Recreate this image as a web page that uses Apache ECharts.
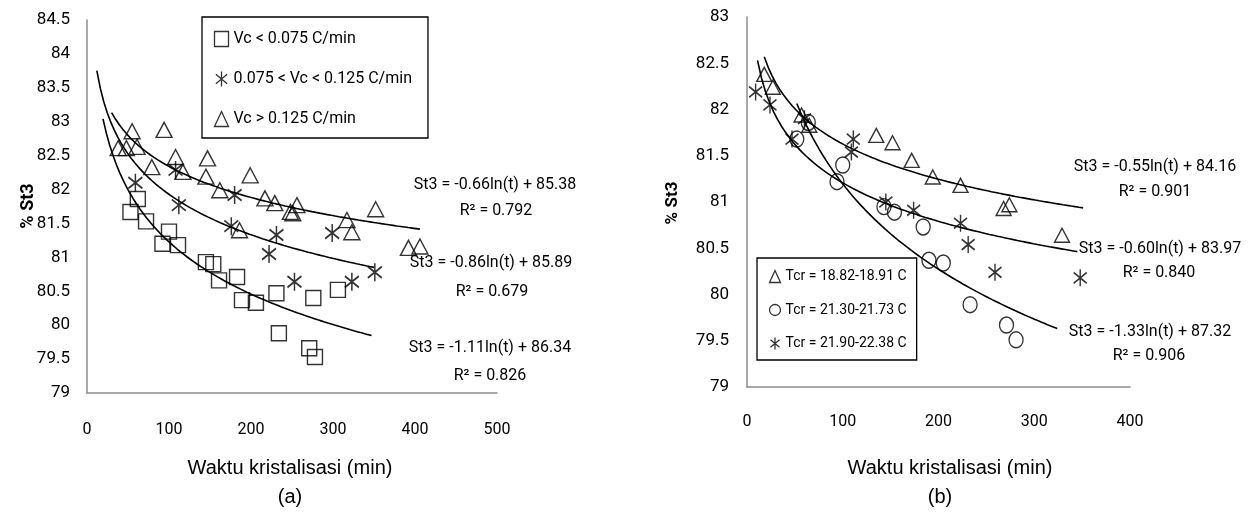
<!DOCTYPE html>
<html>
<head>
<meta charset="utf-8">
<title>% St3 vs Waktu kristalisasi</title>
<script src="https://cdn.jsdelivr.net/npm/echarts@6/dist/echarts.min.js"></script>
<style>
    html, body { margin: 0; padding: 0; background: #fff; }
    #chart { width: 1251px; height: 515px; }
</style>
</head>
<body>
<div id="chart"></div>
<script>
// (a) data, [time (min), % St3]
var slowRate = [[53, 81.67], [62, 81.86], [72, 81.53], [92, 81.2], [100, 81.38], [111, 81.18],
    [145, 80.93], [154, 80.9], [161, 80.66], [183, 80.71], [189, 80.37], [206, 80.33],
    [231, 80.47], [234, 79.88], [271, 79.66], [278, 79.53], [276, 80.4], [306, 80.52]];
var midRate = [[59, 82.1], [108, 82.29], [112, 81.77], [176, 81.46], [180, 81.92], [222, 81.05],
    [231, 81.33], [253, 80.64], [299, 81.36], [323, 80.64], [351, 80.78]];
var fastRate = [[38, 82.61], [48, 82.61], [55, 82.86], [61, 82.63], [79, 82.33], [94, 82.88],
    [108, 82.48], [117, 82.26], [145, 82.19], [147, 82.46], [162, 81.99], [186, 81.4],
    [199, 82.21], [217, 81.87], [229, 81.8], [248, 81.67], [251, 81.65], [256, 81.77],
    [317, 81.55], [323, 81.37], [352, 81.71], [392, 81.14], [406, 81.16]];

// (b) data
var tcrLow = [[18, 82.38], [27, 82.24], [57, 81.94], [65, 81.83], [135, 81.72], [152, 81.64],
    [172, 81.45], [194, 81.27], [223, 81.18], [268, 80.93], [274, 80.97], [329, 80.64]];
var tcrMid = [[52, 81.68], [64, 81.86], [94, 81.22], [100, 81.4], [143, 80.95], [154, 80.89],
    [184, 80.73], [190, 80.37], [205, 80.34], [233, 79.89], [271, 79.67], [281, 79.51]];
var tcrHigh = [[9, 82.19], [24, 82.05], [47, 81.68], [60, 81.9], [109, 81.54], [111, 81.68],
    [145, 81.0], [174, 80.91], [223, 80.77], [231, 80.54], [259, 80.24], [348, 80.18]];

// names
var namesA = ['Vc < 0.075 C/min', '0.075 < Vc < 0.125 C/min', 'Vc > 0.125 C/min'];
var namesB = ['Tcr = 18.82-18.91 C', 'Tcr = 21.30-21.73 C', 'Tcr = 21.90-22.38 C'];

// log trendlines St3 = k*ln(t) + c  (order: slow, mid, fast / low, mid, high)
var slopeA = [-1.11, -0.86, -0.66];
var constA = [86.34, 85.89, 85.38];
var fromA = [19.5, 12, 30];
var toA = [347, 350, 406];
var slopeB = [-0.55, -1.33, -0.60];
var constB = [84.16, 87.32, 83.97];
var fromB = [18, 52, 11];
var toB = [351, 324, 345];

var eqA = ['St3 = -1.11ln(t) + 86.34', 'St3 = -0.86ln(t) + 85.89', 'St3 = -0.66ln(t) + 85.38'];
var r2A = ['R\u00b2 = 0.826', 'R\u00b2 = 0.679', 'R\u00b2 = 0.792'];
var eqB = ['St3 = -0.55ln(t) + 84.16', 'St3 = -1.33ln(t) + 87.32', 'St3 = -0.60ln(t) + 83.97'];
var r2B = ['R\u00b2 = 0.901', 'R\u00b2 = 0.906', 'R\u00b2 = 0.840'];

// ticks [min, max, interval]
var yTicksA = [79, 84.5, 0.5];
var xTicksA = [0, 500, 100];
var yTicksB = [79, 83, 0.5];
var xTicksB = [0, 400, 100];

var FONT = "'Liberation Sans Narrow', Roboto, sans-serif";
var ARIAL = "'Liberation Sans', Arial, sans-serif";
var STAR = 'path://M6,0L6,16M0,3L12,13M0,13L12,3';

window.onload = function () {
    drawCharts();
};

// trendline points
var trend = function (k, c, from, to) {
    var pts = [];
    var n = 80;
    for (var i = 0; i <= n; i++) {
        var t = from + (to - from) * i / n;
        pts.push([t, k * Math.log(t) + c]);
    }
    return pts;
};

var scatter = function (name, data, idx, symbol, size, bw) {
    return {
        name: name,
        type: 'scatter',
        xAxisIndex: idx,
        yAxisIndex: idx,
        data: data,
        symbol: symbol,
        symbolSize: size,
        itemStyle: { color: 'none', borderColor: '#000', borderWidth: bw || 1.4 },
        z: 3
    };
};

var line = function (data, idx) {
    return {
        type: 'line',
        xAxisIndex: idx,
        yAxisIndex: idx,
        data: data,
        symbol: 'none',
        silent: true,
        lineStyle: { color: '#000', width: 1.6 },
        z: 2
    };
};

var axisStyle = function (ticks, idx, margin, size) {
    return {
        type: 'value',
        gridIndex: idx,
        min: ticks[0],
        max: ticks[1],
        interval: ticks[2],
        axisLine: { show: true, onZero: false, lineStyle: { color: '#8c8c8c', width: 1.5 } },
        axisTick: { show: false },
        splitLine: { show: false },
        axisLabel: { margin: margin, color: '#000', fontFamily: FONT, fontSize: size }
    };
};

var text = function (str, x, y, font, size, weight) {
    return {
        type: 'text',
        x: x,
        y: y,
        style: {
            text: str,
            fill: '#000',
            font: (weight || 'normal') + ' ' + size + 'px ' + font,
            textAlign: 'center',
            textVerticalAlign: 'middle'
        }
    };
};

var drawCharts = function () {
    var box = document.getElementById('chart');
    var myChart = echarts.init(box);

    var series = [];
    // (a)
    series.push(scatter(namesA[0], slowRate, 0, 'rect', 15));
    series.push(scatter(namesA[1], midRate, 0, STAR, [14, 18], 1.7));
    series.push(scatter(namesA[2], fastRate, 0, 'triangle', [16, 15]));
    for (var i = 0; i < 3; i++) {
        series.push(line(trend(slopeA[i], constA[i], fromA[i], toA[i]), 0));
    }
    // (b)
    series.push(scatter(namesB[0], tcrLow, 1, 'triangle', [15, 14]));
    series.push(scatter(namesB[1], tcrMid, 1, 'circle', [14, 16]));
    series.push(scatter(namesB[2], tcrHigh, 1, STAR, [13, 17], 1.6));
    for (var j = 0; j < 3; j++) {
        series.push(line(trend(slopeB[j], constB[j], fromB[j], toB[j]), 1));
    }

    var graphics = [
        text(eqA[2], 495, 185, FONT, 16), text(r2A[2], 496, 211, FONT, 16),
        text(eqA[1], 491, 263, FONT, 16), text(r2A[1], 492, 292, FONT, 16),
        text(eqA[0], 490, 348, FONT, 16), text(r2A[0], 490, 376, FONT, 16),
        text(eqB[0], 1155, 167, FONT, 16), text(r2B[0], 1155, 192, FONT, 16),
        text(eqB[2], 1160, 249, FONT, 16), text(r2B[2], 1159, 273, FONT, 16),
        text(eqB[1], 1150, 332, FONT, 16), text(r2B[1], 1149, 356, FONT, 16),
        text('Waktu kristalisasi (min)', 290, 468, ARIAL, 20),
        text('(a)', 290, 497, ARIAL, 20),
        text('Waktu kristalisasi (min)', 950, 468, ARIAL, 20),
        text('(b)', 940, 497, ARIAL, 20)
    ];
    var yName = function (x, y, size) {
        var g = text('% St3', x, y, FONT, size, 'bold');
        g.rotation = Math.PI / 2;
        return g;
    };
    graphics.push(yName(28, 206, 18));
    graphics.push(yName(673, 203, 17));

    var legendBase = {
        orient: 'vertical',
        borderColor: '#000',
        borderWidth: 1.3,
        textStyle: { color: '#000', fontFamily: FONT },
        itemStyle: { color: 'none', borderColor: '#000', borderWidth: 1.3 }
    };

    var option = {
        animation: false,
        backgroundColor: '#fff',
        grid: [
            { left: 87, top: 20, width: 410, height: 373 },
            { left: 747, top: 17, width: 383, height: 370 }
        ],
        xAxis: [axisStyle(xTicksA, 0, 29, 16), axisStyle(xTicksB, 1, 27, 16)],
        yAxis: [axisStyle(yTicksA, 0, 17, 17), axisStyle(yTicksB, 1, 18, 17)],
        legend: [
            echarts.util.merge({
                data: namesA, left: 202, top: 17,
                padding: [12, 16, 9, 10], itemGap: 20, itemWidth: 14, itemHeight: 15,
                textStyle: { fontSize: 16 }
            }, legendBase),
            echarts.util.merge({
                data: namesB, left: 757, top: 258,
                padding: [10, 10, 8, 10], itemGap: 17, itemWidth: 11, itemHeight: 12,
                textStyle: { fontSize: 14 }
            }, legendBase)
        ],
        graphic: graphics,
        series: series
    };

    myChart.setOption(option);
};
</script>
</body>
</html>
